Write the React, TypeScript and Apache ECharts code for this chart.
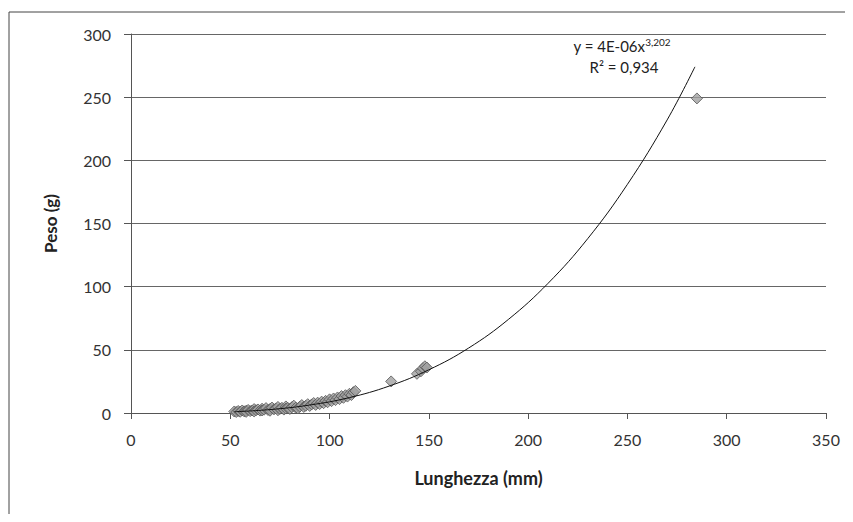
import React, { useEffect, useRef } from "react";
import * as echarts from "echarts";

const xTicks = [0, 50, 100, 150, 200, 250, 300, 350];
const yTicks = [0, 50, 100, 150, 200, 250, 300];

const lengthMm = [
  52, 53, 54, 55, 56, 57, 58, 58, 59, 60, 61, 62, 62, 63, 64, 65, 66, 66, 67, 68,
  69, 70, 70, 71, 72, 73, 74, 74, 75, 76, 77, 78, 78, 79, 80, 81, 82, 83, 84, 85,
  86, 87, 88, 89, 90, 91, 92, 93, 94, 95, 96, 97, 98, 99, 100, 101, 102, 103, 104, 105,
  106, 107, 108, 109, 110, 111, 112, 113, 131, 144, 146, 147, 148, 149, 285,
];
const weightG = [
  1.2, 0.8, 1.6, 1.0, 2.0, 1.3, 1.8, 0.9, 2.4, 1.5, 2.0, 3.1, 1.2, 2.2, 2.8, 1.9, 3.4, 2.0, 2.6, 3.9,
  2.4, 3.2, 1.8, 4.3, 2.9, 3.6, 2.2, 4.8, 3.3, 4.1, 2.7, 5.2, 3.5, 4.0, 3.2, 4.6, 5.8, 4.2, 3.6, 5.0,
  6.3, 4.8, 5.7, 7.0, 5.6, 6.8, 7.9, 6.4, 8.2, 7.1, 9.0, 7.8, 9.6, 8.5, 10.8, 9.4, 11.5, 10.2, 12.3, 11.0,
  13.4, 12.0, 14.1, 13.0, 15.2, 14.2, 16.5, 17.5, 25, 31, 33, 35.5, 37, 36, 249,
];

// power trendline
const trendX = [52, 70, 90, 110, 130, 150, 170, 190, 210, 230, 250, 270, 284];
const trendY = [1.0, 2.7, 6.3, 12.2, 21.3, 34.2, 51.4, 74, 102.6, 138, 181, 232, 274];

const FONT = "Lato, 'Open Sans', sans-serif";

export default function App() {
  const ref = useRef<HTMLDivElement>(null);
  useEffect(() => {
    if (!ref.current) return;
    const chart = echarts.init(ref.current, null, { renderer: "svg" });
    const points = lengthMm.map((x, i) => [x, weightG[i]]);
    const trend = trendX.map((x, i) => [x, trendY[i]]);
    chart.setOption({
      animation: false,
      backgroundColor: "#fff",
      textStyle: { fontFamily: FONT },
      grid: { left: 131, right: 27, top: 34, bottom: 109 },
      graphic: [
        {
          type: "rect",
          shape: { x: 9, y: 12, width: 900, height: 600 },
          style: { fill: "none", stroke: "#444", lineWidth: 1 },
          silent: true,
        },
        {
          type: "text",
          x: 622,
          y: 46,
          style: {
            text: "{a|y = 4E-06x}{s|3,202}",
            align: "center",
            verticalAlign: "middle",
            rich: {
              a: { fontSize: 15, fontFamily: FONT, fill: "#222" },
              s: { fontSize: 10, fontFamily: FONT, fill: "#222", verticalAlign: "top", padding: [0, 0, 8, 0] },
            },
          },
        },
        {
          type: "text",
          x: 624,
          y: 67,
          style: {
            text: "R² = 0,934",
            align: "center",
            verticalAlign: "middle",
            fontSize: 15,
            fontFamily: FONT,
            fill: "#222",
          },
        },
      ],
      xAxis: {
        type: "value",
        min: 0,
        max: 350,
        interval: 50,
        name: "Lunghezza (mm)",
        nameLocation: "middle",
        nameGap: 56,
        nameTextStyle: { fontSize: 18, fontWeight: "bold", color: "#222", fontFamily: FONT },
        axisLine: { show: true, lineStyle: { color: "#555", width: 1 } },
        axisTick: { show: true, length: 6, lineStyle: { color: "#555" } },
        axisLabel: { fontSize: 16, color: "#333", margin: 18, fontFamily: FONT },
        splitLine: { show: false },
      },
      yAxis: {
        type: "value",
        min: 0,
        max: 300,
        interval: 50,
        name: "Peso (g)",
        nameLocation: "middle",
        nameGap: 72,
        nameTextStyle: { fontSize: 17, fontWeight: "bold", color: "#222", fontFamily: FONT },
        axisLine: { show: true, lineStyle: { color: "#555", width: 1 } },
        axisTick: { show: true, length: 7, lineStyle: { color: "#555" } },
        axisLabel: { fontSize: 16, color: "#333", margin: 20, fontFamily: FONT },
        splitLine: { show: true, lineStyle: { color: "#666", width: 1 } },
      },
      series: [
        {
          type: "scatter",
          data: points,
          symbol: "diamond",
          symbolSize: 11,
          itemStyle: { color: "#a0a0a0", borderColor: "#555", borderWidth: 1 },
          z: 3,
        },
        {
          type: "line",
          data: trend,
          smooth: 0.4,
          showSymbol: false,
          symbol: "none",
          lineStyle: { color: "#111", width: 1 },
          z: 4,
        },
      ],
    });
    return () => chart.dispose();
  }, []);
  return <div ref={ref} style={{ width: 853, height: 522, margin: -8 }} />;
}
